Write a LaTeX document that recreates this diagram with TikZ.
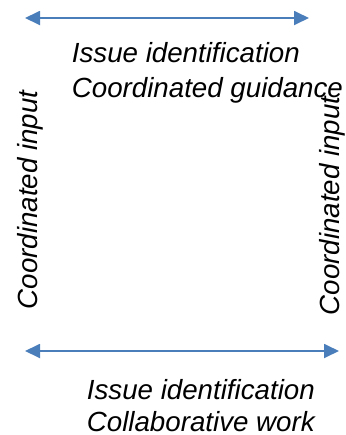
\documentclass[tikz,border=0pt]{standalone}
\usepackage{fontspec}
\setmainfont{Liberation Sans}
\usetikzlibrary{arrows.meta}
\definecolor{flowblue}{HTML}{4A7EBB}

\begin{document}
\begin{tikzpicture}[
                            x=0.5pt,
                            y=-0.5pt,
                            >={Triangle[length=7.5pt,width=7pt]},
                            line width=0.9pt
                        ]

                        \tikzstyle{flow}=[<->,draw=flowblue,fill=none]
                        \tikzstyle{every node}=[inner sep=0pt,text=black,font=\itshape\fontsize{13.85}{17.5}\selectfont]

                        \useasboundingbox (0,0) rectangle (346,435);

                        \coordinate (TL) at (25,18);
                        \coordinate (TR) at (309,18);
                        \coordinate (BL) at (25,351);
                        \coordinate (BR) at (339,351);

                        \node[anchor=base west,align=left] (top) at (71,97)
                            {Issue identification\\Coordinated guidance};
                        \node[anchor=base west,align=left,font=\itshape\fontsize{13.85}{16}\selectfont] (bottom) at (86,431)
                            {Issue identification\\Collaborative work};
                        \node[anchor=base,rotate=90] (left)  at (38,200) {Coordinated input};
                        \node[anchor=base,rotate=90] (right) at (339,206) {Coordinated input};

                        \path
                        (TL) edge [flow] (TR)
                        (BL) edge [flow] (BR)
                        ;
                    \end{tikzpicture}
\end{document}
